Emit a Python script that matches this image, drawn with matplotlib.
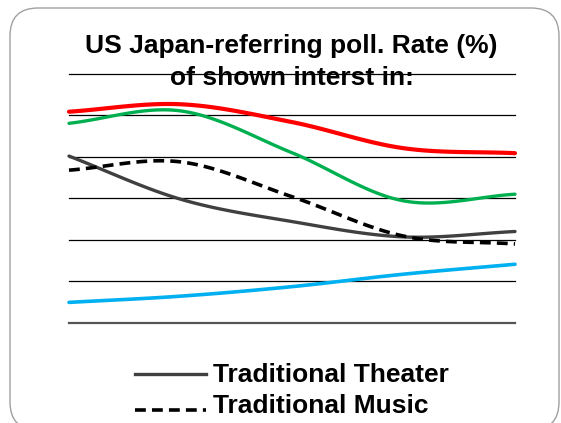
import numpy as np
import matplotlib
matplotlib.use("Agg")
import matplotlib.pyplot as plt
from matplotlib.patches import FancyBboxPatch
from matplotlib.lines import Line2D

plt.rcParams['font.family'] = ['Liberation Sans', 'DejaVu Sans']

# ---- data ----
categories = ["P1", "P2", "P3", "P4", "P5"]
red_series = [50.9, 52.7, 48.4, 42.1, 40.9]
green_series = [48.1, 51.1, 41.0, 29.4, 31.0]
theater = [40.2, 29.8, 24.4, 20.7, 22.0]
music = [36.8, 38.8, 30.4, 20.9, 19.0]
blue_series = [4.9, 6.4, 8.7, 11.7, 14.1]
y_ticks = [0, 10, 20, 30, 40, 50, 60]
title_lines = ["US Japan-referring poll. Rate (%)", "of shown interst in:"]
legend_labels = ["Traditional Theater", "Traditional Music"]


def smooth(y, n=30):
    """Catmull-Rom smoothing (like a spreadsheet 'smoothed line')."""
    y = np.asarray(y, float)
    x = np.arange(len(y), dtype=float)
    p = np.concatenate([[2 * y[0] - y[1]], y, [2 * y[-1] - y[-2]]])
    xs, ys = [], []
    for i in range(len(y) - 1):
        p0, p1, p2, p3 = p[i], p[i + 1], p[i + 2], p[i + 3]
        t = np.linspace(0, 1, n, endpoint=(i == len(y) - 2))
        m1 = (p2 - p0) / 2
        m2 = (p3 - p1) / 2
        h00 = 2 * t**3 - 3 * t**2 + 1
        h10 = t**3 - 2 * t**2 + t
        h01 = -2 * t**3 + 3 * t**2
        h11 = t**3 - t**2
        ys.append(h00 * p1 + h10 * m1 + h01 * p2 + h11 * m2)
        xs.append(x[i] + t)
    return np.concatenate(xs), np.concatenate(ys)


W, H = 561, 423
fig = plt.figure(figsize=(W / 100, H / 100), dpi=100)

# rounded border
border = FancyBboxPatch((10 / W, 1 - 430 / H), 549 / W, (430 - 8) / H,
                        boxstyle="round,pad=0,rounding_size=0.05",
                        transform=fig.transFigure, fill=False,
                        edgecolor="#a0a0a0", linewidth=1.0, clip_on=False,
                        mutation_aspect=W / H)
fig.patches.append(border)

x0, x1 = 69, 515
ytop, ybot = 74, 322.7
ax = fig.add_axes([x0 / W, 1 - ybot / H, (x1 - x0) / W, (ybot - ytop) / H])
ax.set_xlim(0, len(categories) - 1)
ax.set_ylim(y_ticks[0], y_ticks[-1])
for s in ax.spines.values():
    s.set_visible(False)
ax.set_xticks([])
ax.set_yticks([])
for v in y_ticks:
    if v == 0:
        ax.axhline(v, color="#555555", lw=1.6, clip_on=False, zorder=1)
    else:
        ax.axhline(v, color="black", lw=0.9, clip_on=False, zorder=1)

DASH = (3.0, 1.7)
xs, ys = smooth(red_series)
ax.plot(xs, ys, color="#FF0000", lw=3.0, solid_capstyle="round", zorder=3, clip_on=False)
xs, ys = smooth(green_series)
ax.plot(xs, ys, color="#00B050", lw=2.4, solid_capstyle="round", zorder=3, clip_on=False)
xs, ys = smooth(theater)
ax.plot(xs, ys, color="#404040", lw=2.4, solid_capstyle="round", zorder=3, clip_on=False)
xs, ys = smooth(music)
ax.plot(xs, ys, color="black", lw=2.6, dashes=DASH, zorder=3, clip_on=False)
xs, ys = smooth(blue_series)
ax.plot(xs, ys, color="#00B0F0", lw=2.6, solid_capstyle="round", zorder=3, clip_on=False)

# title (two lines, positioned by baseline)
FS = 19
fig.text(291.5 / W, 1 - 52.7 / H, title_lines[0], ha="center", va="baseline",
         fontsize=FS, fontweight="bold")
fig.text(291.5 / W, 1 - 85 / H, title_lines[1], ha="center", va="baseline",
         fontsize=FS, fontweight="bold")

# legend (manual layout)
leg_handles = [dict(color="#404040", lw=2.4), dict(color="black", lw=2.6, dashes=DASH)]
leg_line_y = [374, 409.5]
leg_base_y = [381.7, 413.3]
for lab, hkw, ly, by in zip(legend_labels, leg_handles, leg_line_y, leg_base_y):
    ln = Line2D([135 / W, 206 / W], [1 - ly / H, 1 - ly / H],
                transform=fig.transFigure, **hkw)
    fig.lines.append(ln)
    fig.text(213 / W, 1 - by / H, lab, ha="left", va="baseline",
             fontsize=FS, fontweight="bold")

fig.savefig("out.png", dpi=100)
